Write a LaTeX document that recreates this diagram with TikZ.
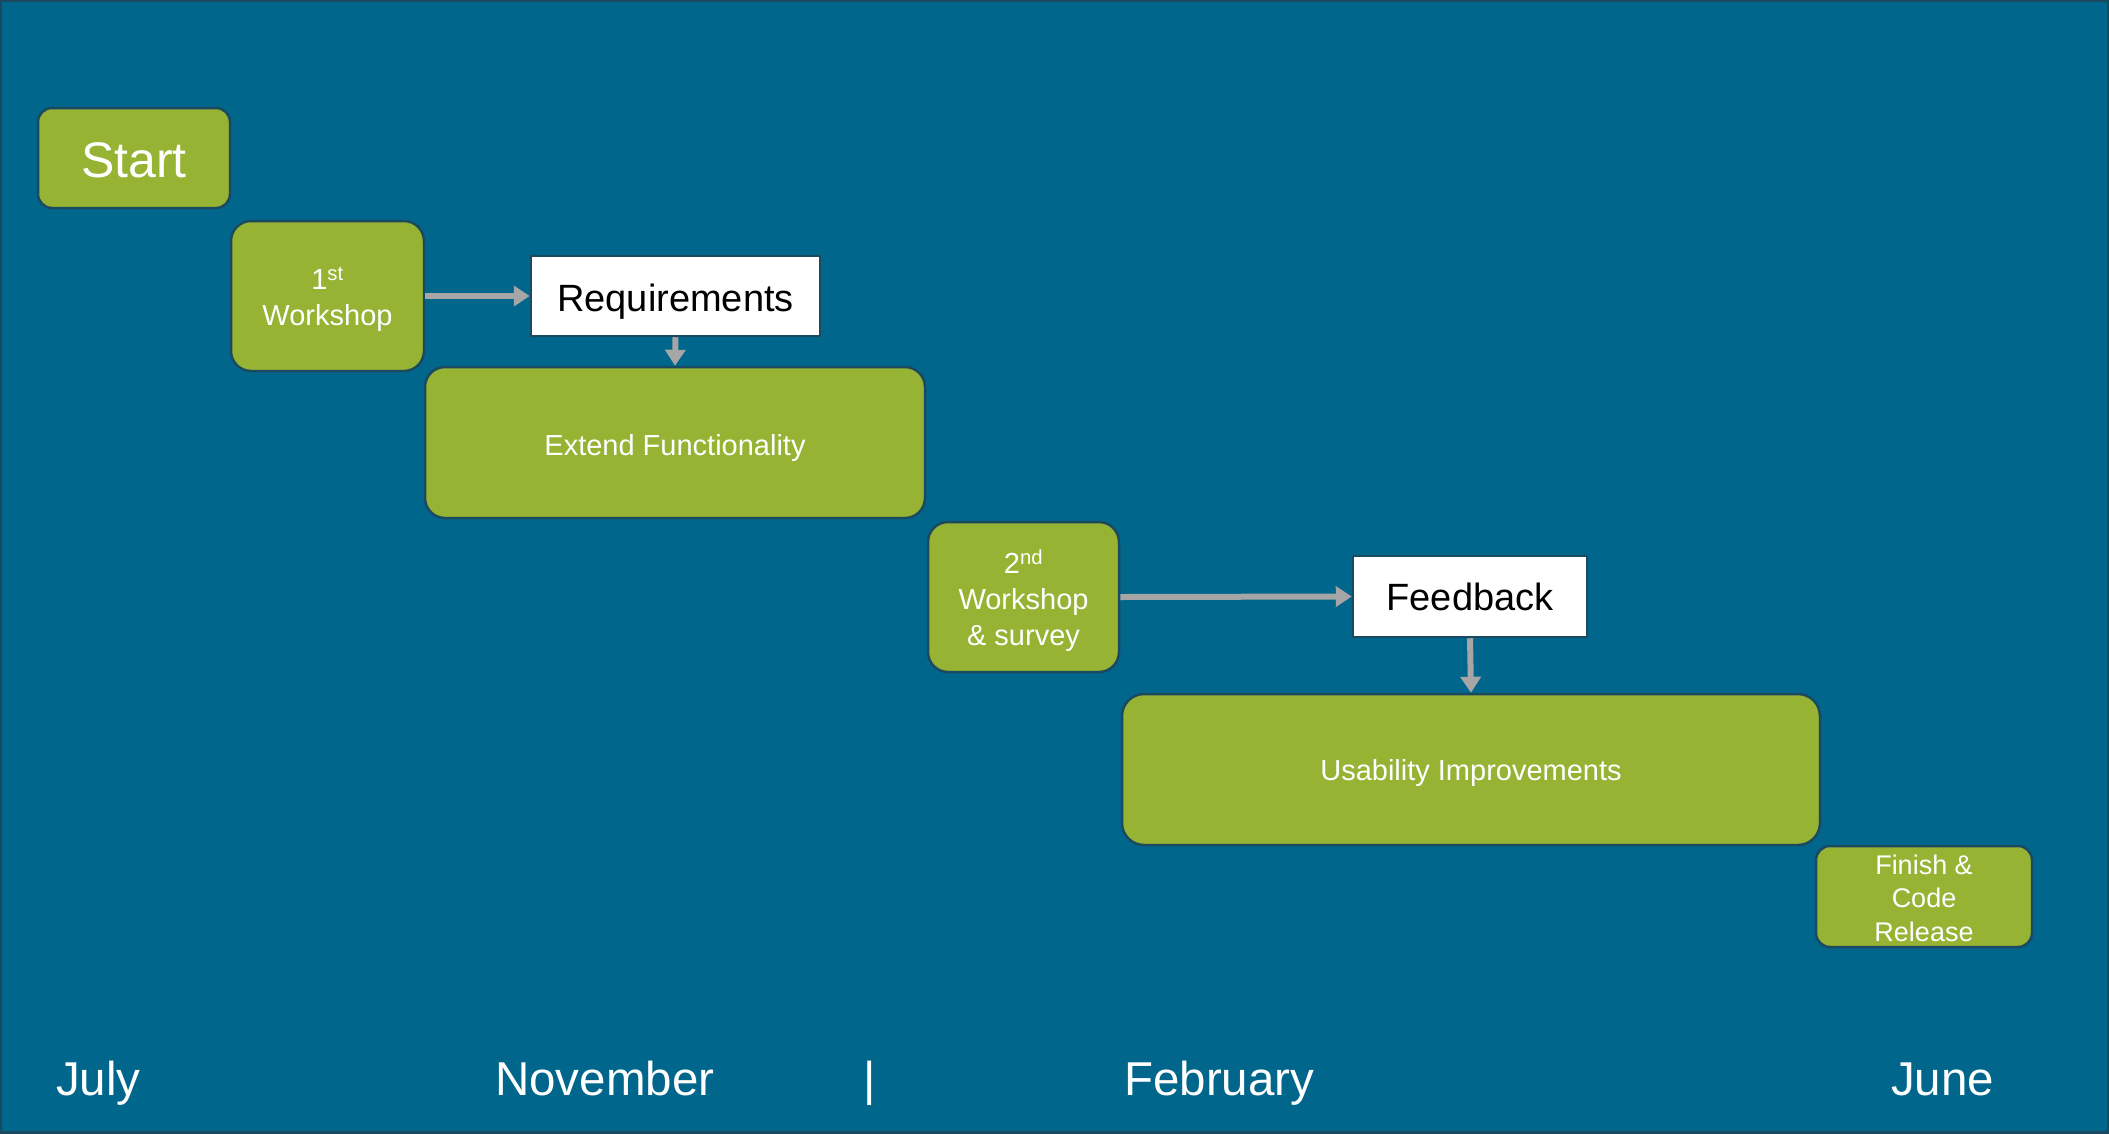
\documentclass[tikz,border=0pt]{standalone}
\usepackage{fontspec}
\setmainfont{Liberation Sans}
\usetikzlibrary{arrows.meta}
\definecolor{bgblue}{HTML}{00668B}
\definecolor{edgeblue}{HTML}{1B4A60}
\definecolor{boxgreen}{HTML}{96B334}
\definecolor{arrowgray}{HTML}{A6A6A6}
\newcommand{\lowertext}[2]{\raisebox{-#1}[\height][\depth]{\begin{tabular}{@{}c@{}}#2\end{tabular}}}
\tikzset{
  greenbox/.style={draw=edgeblue, line width=2.5pt, fill=boxgreen, text=white, align=center, inner sep=0pt},
  whitebox/.style={draw=edgeblue, line width=2.5pt, fill=white, text=black, align=center, inner sep=0pt},
  flowarrow/.style={draw=arrowgray, line width=6pt, -{Triangle[length=16pt,width=20pt]}},
  monthlabel/.style={text=white, anchor=base west, inner sep=0pt, font=\fontsize{47.5}{56}\selectfont}
}
\begin{document}
\begin{tikzpicture}[x=1pt,y=-1pt]
\useasboundingbox (0,0) rectangle (2109,1133);
\fill[bgblue] (0,0) rectangle (2109,1133);
\draw[edgeblue, line width=4pt] (0,0) rectangle (2109,1133);

\node[greenbox, rounded corners=14pt, minimum width=192pt, minimum height=100pt, font=\fontsize{50}{58}\selectfont] (start) at (134,158) {\lowertext{7.5pt}{Start}};
\node[greenbox, rounded corners=20pt, minimum width=193pt, minimum height=150pt, font=\fontsize{29}{36}\selectfont] (w1) at (327.5,296) {\lowertext{4.5pt}{1\textsuperscript{st}\\Workshop}};
\node[whitebox, minimum width=289pt, minimum height=80pt, font=\fontsize{38}{44}\selectfont] (req) at (675.5,296) {\lowertext{6.5pt}{Requirements}};
\node[greenbox, rounded corners=20pt, minimum width=500pt, minimum height=151pt, font=\fontsize{29}{36}\selectfont] (ext) at (675,442.5) {\lowertext{5.5pt}{Extend Functionality}};
\node[greenbox, rounded corners=20pt, minimum width=191pt, minimum height=150pt, font=\fontsize{29}{36}\selectfont] (w2) at (1023.5,597) {\lowertext{5pt}{2\textsuperscript{nd}\\Workshop\\\& survey}};
\node[whitebox, minimum width=234pt, minimum height=81pt, font=\fontsize{38}{44}\selectfont] (fb) at (1470,596.5) {\lowertext{5pt}{Feedback}};
\node[greenbox, rounded corners=22pt, minimum width=698pt, minimum height=151pt, font=\fontsize{29}{36}\selectfont] (usab) at (1471,769.5) {\lowertext{4pt}{Usability Improvements}};
\node[greenbox, rounded corners=14pt, minimum width=216pt, minimum height=101pt, font=\fontsize{27}{33.5}\selectfont] (fin) at (1924,896.5) {\lowertext{4.5pt}{Finish \&\\Code\\Release}};

\draw[flowarrow] (w1.east) -- (req.west);
\draw[flowarrow] (req.south) -- (ext.north);
\draw[flowarrow] (w2.east) -- (fb.west);
\draw[flowarrow] (fb.south) -- (usab.north);

\node[monthlabel] (jul) at (56,1095) {July};
\node[monthlabel] (nov) at (495,1095) {November};
\node[monthlabel] (bar) at (863,1095) {|};
\node[monthlabel] (feb) at (1124,1095) {February};
\node[monthlabel] (jun) at (1891,1095) {June};
\end{tikzpicture}
\end{document}
